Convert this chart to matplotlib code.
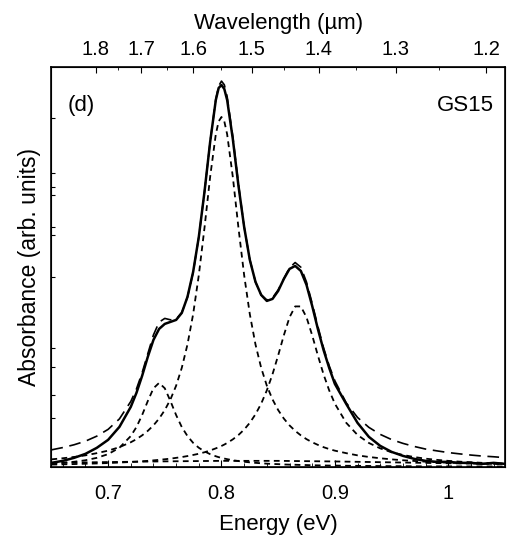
import matplotlib
matplotlib.use("Agg")
import matplotlib.pyplot as plt
from matplotlib.ticker import FixedLocator, NullFormatter

plt.rcParams["font.family"] = ["Liberation Sans", "DejaVu Sans"]

# photon energy grid (eV)
energy = [0.65, 0.66, 0.67, 0.68, 0.69, 0.70, 0.71, 0.72, 0.725, 0.73,
          0.735, 0.74, 0.745, 0.75, 0.755, 0.76, 0.765, 0.77, 0.775, 0.78,
          0.785, 0.79, 0.795, 0.7975, 0.80, 0.8025, 0.805, 0.81, 0.815, 0.82,
          0.825, 0.83, 0.835, 0.84, 0.845, 0.85, 0.855, 0.86, 0.865, 0.87,
          0.875, 0.88, 0.885, 0.89, 0.895, 0.90, 0.91, 0.92, 0.93, 0.94,
          0.95, 0.96, 0.97, 0.98, 0.99, 1.00, 1.01, 1.02, 1.03, 1.04, 1.05]

# measured absorbance (arb. units)
measured = [4, 6, 9, 13, 19, 27, 40, 60, 74, 91,
            110, 127, 138, 143, 145, 147, 154, 170, 195, 230,
            275, 325, 367, 379, 382, 378, 367, 328, 281, 240,
            207, 185, 172, 166, 168, 176, 188, 198, 201, 196,
            182, 161, 138, 117, 99, 83, 63, 44, 30, 21,
            15, 11, 8, 6, 5, 5, 4, 4, 3, 4, 3]

# fitted components
peak_low = [3.2, 4.0, 5.1, 6.6, 9.0, 12.7, 19.1, 30.8, 39.8, 51.8,
            65.8, 78.6, 84.0, 78.6, 65.8, 51.8, 39.8, 30.8, 24.0, 19.1,
            15.5, 12.7, 10.6, 9.7, 9.0, 8.3, 7.7, 6.6, 5.8, 5.1,
            4.5, 4.0, 3.6, 3.2, 2.9, 2.7, 2.4, 2.2, 2.1, 1.9,
            1.8, 1.6, 1.5, 1.4, 1.3, 1.3, 1.1, 1.0, 0.9, 0.8,
            0.7, 0.7, 0.6, 0.5, 0.5, 0.5, 0.4, 0.4, 0.4, 0.4, 0.3]

peak_main = [7.5, 8.6, 9.9, 11.5, 13.7, 16.2, 19.7, 24.6, 27.7, 31.5,
             36.0, 41.5, 48.3, 56.8, 67.5, 81.2, 99.1, 122.4, 152.7, 191.7,
             238.9, 290.1, 332.7, 345.6, 350.0, 345.6, 332.7, 290.1, 238.9, 191.7,
             152.7, 122.4, 99.1, 81.2, 67.5, 56.8, 48.3, 41.5, 36.0, 31.5,
             27.7, 24.6, 22.0, 19.7, 17.8, 16.2, 13.7, 11.5, 9.9, 8.6,
             7.5, 6.6, 5.9, 5.2, 4.7, 4.2, 3.9, 3.5, 3.2, 3.0, 2.7]

peak_high = [2.3, 2.5, 2.8, 3.1, 3.4, 3.8, 4.3, 4.9, 5.2, 5.6,
             6.0, 6.5, 7.0, 7.6, 8.2, 9.0, 9.8, 10.8, 11.9, 13.1,
             14.6, 16.4, 18.5, 19.6, 20.9, 22.3, 23.9, 27.5, 31.9, 37.3,
             44.1, 52.6, 63.2, 76.5, 92.6, 111.5, 131.6, 149.6, 160.5, 160.5,
             149.6, 131.6, 111.5, 92.6, 76.5, 63.2, 44.1, 31.9, 23.9, 18.5,
             14.6, 11.9, 9.8, 8.2, 7.0, 6.0, 5.2, 4.6, 4.0, 3.6, 3.2]

# broad background component
bg_energy = [0.65, 0.70, 0.75, 0.80, 0.85, 0.90, 0.95, 1.00, 1.05]
bg_value = [4.0, 4.8, 5.5, 6.0, 6.0, 5.4, 4.5, 3.6, 3.0]

# total fit
fit_total = [17.0, 19.3, 22.1, 25.7, 30.7, 37.5, 48.0, 65.4, 77.9, 94.1,
             113.1, 132.0, 144.8, 148.5, 147.1, 147.7, 154.4, 169.8, 194.4, 229.8,
             274.9, 325.2, 367.8, 380.9, 385.9, 382.2, 370.3, 330.2, 282.6, 240.1,
             207.3, 185.0, 171.9, 166.9, 169.0, 177.0, 188.2, 199.2, 204.4, 199.7,
             184.8, 163.5, 140.6, 119.2, 101.1, 86.1, 64.1, 49.4, 39.5, 32.5,
             27.3, 23.5, 20.4, 17.8, 16.0, 14.3, 13.0, 11.8, 10.8, 10.1, 9.2]

wl_ticks = [1.8, 1.7, 1.6, 1.5, 1.4, 1.3, 1.2]
wl_minor = [1.75, 1.65, 1.55, 1.45, 1.35, 1.25]
y_ticks = [49, 72, 100, 119, 190, 232, 240, 272, 280, 294, 349]

fig = plt.figure(figsize=(5.09, 5.36), dpi=100)
ax = fig.add_axes([0.101, 0.129, 0.891, 0.746])

short = dict(color="black", lw=1.3, linestyle=(0, (3.2, 2.4)))
ax.plot(energy, peak_low, **short)
ax.plot(energy, peak_main, **short)
ax.plot(energy, peak_high, **short)
ax.plot(bg_energy, bg_value, **short)
ax.plot(energy, fit_total, color="black", lw=1.2, linestyle=(0, (7, 4)))
ax.plot(energy, measured, color="black", lw=1.8)

ax.set_xlim(0.65, 1.05)
ax.set_ylim(0, 400)
ax.set_xticks([0.7, 0.8, 0.9, 1.0])
ax.set_xticklabels(["0.7", "0.8", "0.9", "1"])
ax.xaxis.set_minor_locator(FixedLocator([0.66, 0.68, 0.72, 0.74, 0.76, 0.78, 0.82, 0.84,
                                         0.86, 0.88, 0.92, 0.94, 0.96, 0.98, 1.02, 1.04]))
ax.set_yticks(y_ticks)
ax.yaxis.set_major_formatter(NullFormatter())
ax.tick_params(axis="both", which="both", direction="in", labelsize=14.5)
ax.tick_params(axis="x", which="major", length=5, pad=12)
ax.tick_params(axis="x", which="minor", length=3)
ax.tick_params(axis="y", length=3)
for s in ax.spines.values():
    s.set_linewidth(1.2)

ax.set_xlabel("Energy (eV)", fontsize=16, labelpad=8)
ax.set_ylabel("Absorbance (arb. units)", fontsize=16.5, labelpad=4)

# wavelength axis on top
top = ax.twiny()
top.set_xlim(ax.get_xlim())
top.set_xticks([1.24 / w for w in wl_ticks])
top.set_xticklabels([str(w) for w in wl_ticks])
top.xaxis.set_minor_locator(FixedLocator([1.24 / w for w in wl_minor]))
top.tick_params(axis="x", which="both", direction="in", labelsize=14.5, pad=6)
top.tick_params(axis="x", which="major", length=4)
top.tick_params(axis="x", which="minor", length=2)
top.set_xlabel("Wavelength (\u00b5m)", fontsize=16, labelpad=8)

ax.text(0.035, 0.93, "(d)", transform=ax.transAxes, fontsize=16, va="top", ha="left")
ax.text(0.975, 0.93, "GS15", transform=ax.transAxes, fontsize=16, va="top", ha="right")

fig.savefig("out.png", dpi=100)
